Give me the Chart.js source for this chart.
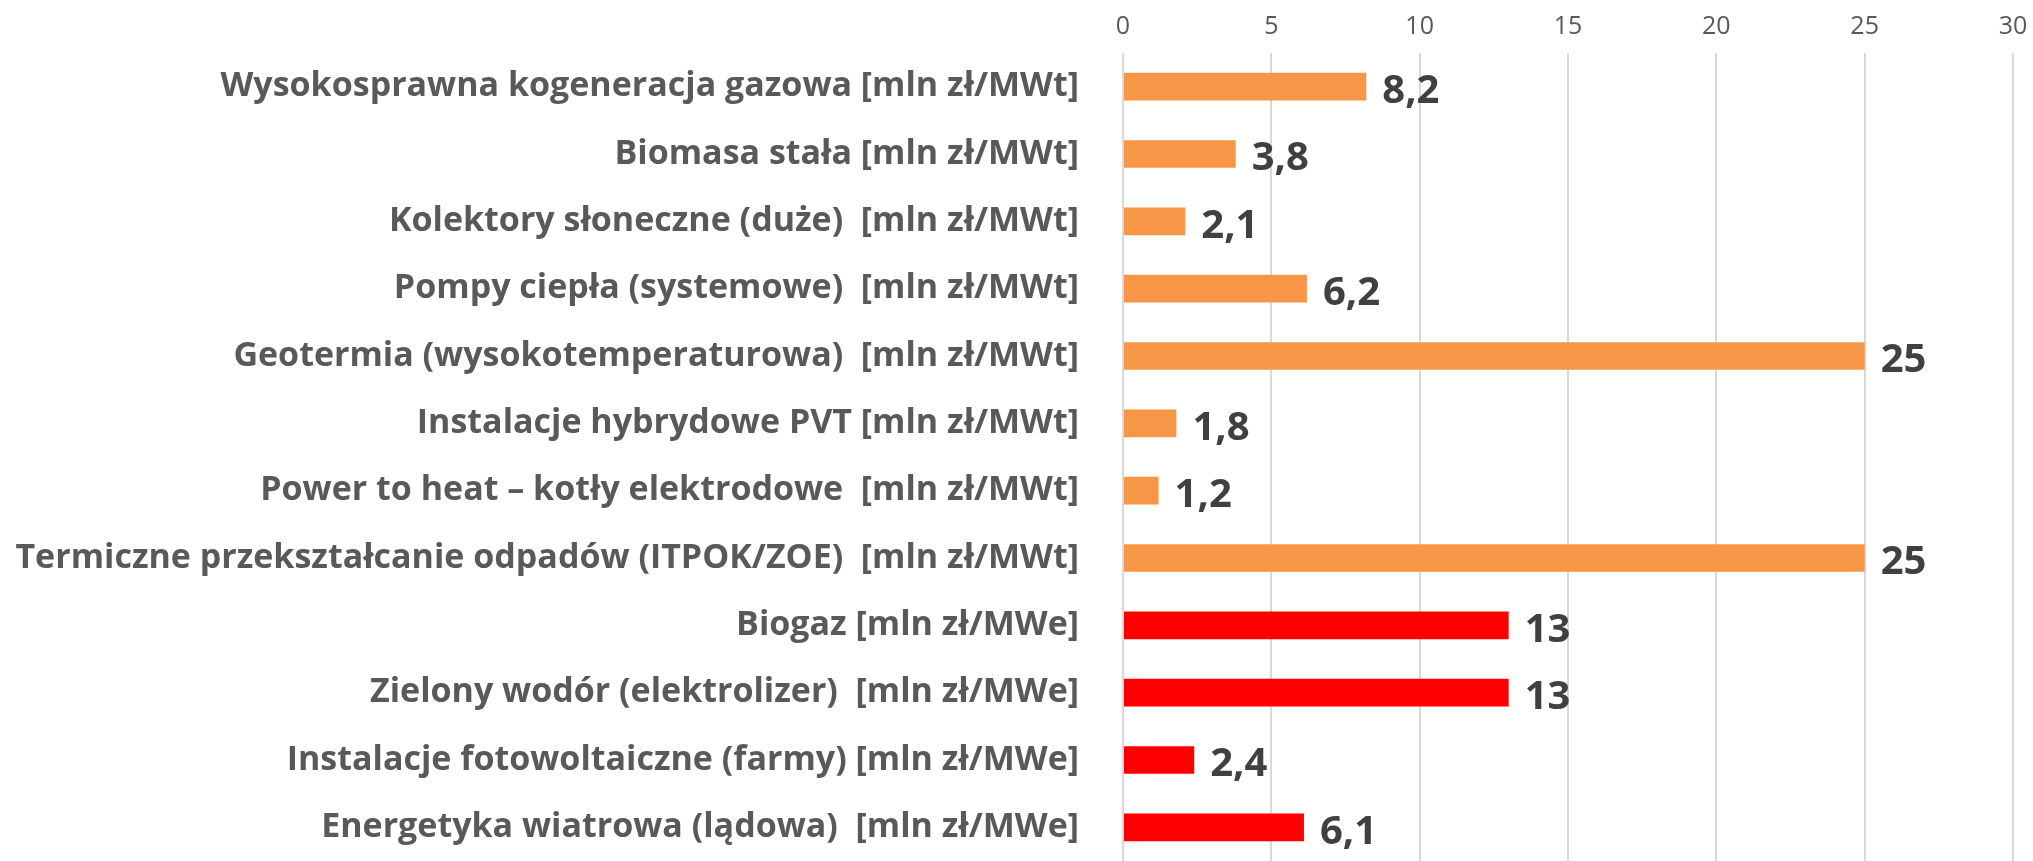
<!DOCTYPE html>
<html>
<head>
<meta charset="utf-8">
<script src="https://cdn.jsdelivr.net/npm/chart.js@4/dist/chart.umd.min.js"></script>
<style>
    html, body { margin: 0; padding: 0; background: #fff; overflow: hidden; }
</style>
</head>
<body>
<canvas id="bar-chart" width="2033" height="861"></canvas>
<script>
const categories = [
    'Wysokosprawna kogeneracja gazowa [mln zł/MWt]',
    'Biomasa stała [mln zł/MWt]',
    'Kolektory słoneczne (duże)  [mln zł/MWt]',
    'Pompy ciepła (systemowe)  [mln zł/MWt]',
    'Geotermia (wysokotemperaturowa)  [mln zł/MWt]',
    'Instalacje hybrydowe PVT [mln zł/MWt]',
    'Power to heat – kotły elektrodowe  [mln zł/MWt]',
    'Termiczne przekształcanie odpadów (ITPOK/ZOE)  [mln zł/MWt]',
    'Biogaz [mln zł/MWe]',
    'Zielony wodór (elektrolizer)  [mln zł/MWe]',
    'Instalacje fotowoltaiczne (farmy) [mln zł/MWe]',
    'Energetyka wiatrowa (lądowa)  [mln zł/MWe]'
];
const costs = [8.2, 3.8, 2.1, 6.2, 25, 1.8, 1.2, 25, 13, 13, 2.4, 6.1];
const units = ['MWt', 'MWt', 'MWt', 'MWt', 'MWt', 'MWt', 'MWt', 'MWt', 'MWe', 'MWe', 'MWe', 'MWe'];
const xTicks = [0, 5, 10, 15, 20, 25, 30];

const barColors = units.map(u => u === 'MWt' ? '#f79646' : '#ff0000');

// values printed after each bar, polish decimal comma
const valueLabels = {
    id: 'valueLabels',
    afterDatasetsDraw(chart) {
        const ctx = chart.ctx;
        const meta = chart.getDatasetMeta(0);
        ctx.save();
        ctx.font = 'bold 40px "Open Sans"';
        ctx.fillStyle = '#404040';
        ctx.textAlign = 'left';
        ctx.textBaseline = 'middle';
        meta.data.forEach((bar, i) => {
            const txt = String(costs[i]).replace('.', ',');
            ctx.fillText(txt, bar.x + 16, bar.y + 5);
        });
        ctx.restore();
    }
};

const ctx = document.getElementById('bar-chart').getContext('2d');
new Chart(ctx, {
    type: 'bar',
    data: {
        labels: categories,
        datasets: [{
            data: costs,
            backgroundColor: barColors,
            borderWidth: 0,
            categoryPercentage: 1,
            barPercentage: 0.41
        }]
    },
    options: {
        indexAxis: 'y',
        responsive: false,
        animation: false,
        layout: { padding: { top: 0, right: 20, bottom: 0, left: 0 } },
        plugins: {
            legend: { display: false },
            tooltip: { enabled: false }
        },
        scales: {
            x: {
                position: 'top',
                min: xTicks[0],
                max: xTicks[xTicks.length - 1],
                afterBuildTicks: (scale) => {
                    scale.ticks = xTicks.map(v => ({ value: v }));
                },
                afterFit: (scale) => {
                    scale.paddingLeft = 0;
                    scale.paddingRight = 0;
                },
                ticks: {
                    padding: 14,
                    color: '#595959',
                    font: { family: 'Open Sans', size: 25, lineHeight: 1 }
                },
                grid: {
                    color: '#d9d9d9',
                    lineWidth: 2,
                    drawTicks: false
                },
                border: { display: false }
            },
            y: {
                afterFit: (scale) => {
                    scale.width = 1123;
                    scale.paddingTop = 0;
                    scale.paddingBottom = 0;
                },
                ticks: {
                    padding: 36,
                    color: '#595959',
                    font: { family: 'Open Sans', size: 34, weight: 'bold' }
                },
                grid: { display: false },
                border: { display: false }
            }
        }
    },
    plugins: [valueLabels]
});
</script>
</body>
</html>
